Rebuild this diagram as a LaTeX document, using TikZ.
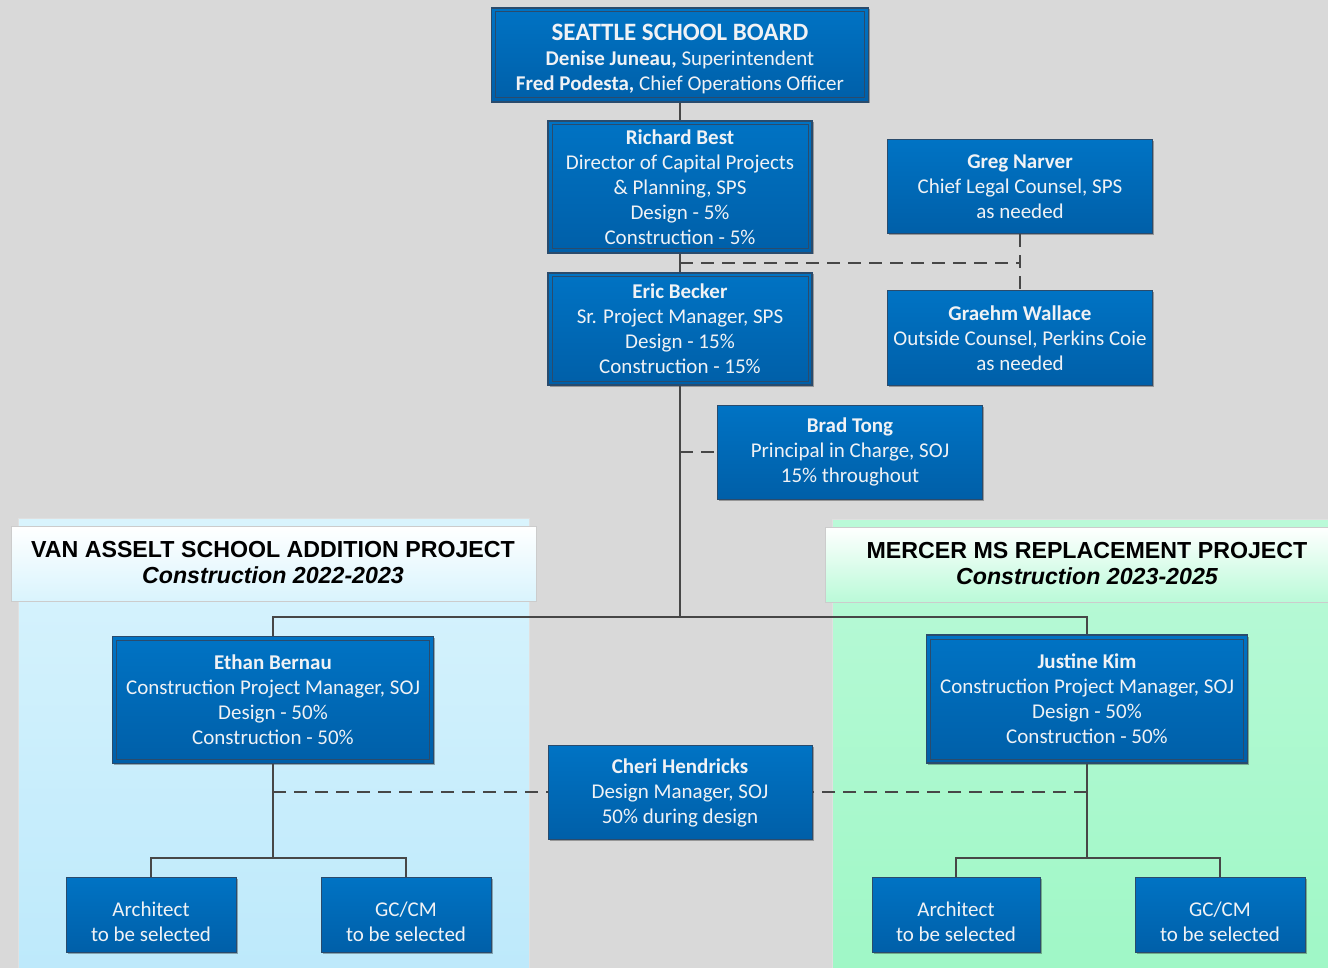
\documentclass[tikz,border=0pt]{standalone}
\usepackage{fontspec}
\setmainfont{Carlito}
\newfontfamily\headfont{Liberation Sans}
\usetikzlibrary{shadows}

\definecolor{bggray}{HTML}{D9D9D9}
\definecolor{boxtop}{HTML}{0073C4}
\definecolor{boxbot}{HTML}{005FA8}
\definecolor{boxline}{HTML}{2A4B6C}
\definecolor{linkgray}{HTML}{474747}
\definecolor{boxtext}{HTML}{F0F2F5}
\definecolor{bluetop}{HTML}{D9F4FD}
\definecolor{bluebot}{HTML}{BDE9FB}
\definecolor{greentop}{HTML}{BAFAD8}
\definecolor{greenbot}{HTML}{9FF7C6}

\tikzstyle{person}=[rectangle, draw=boxline, line width=1pt, top color=boxtop, bottom color=boxbot,
  text=boxtext, align=center, inner sep=0pt, font=\fontsize{21}{25}\selectfont,
  drop shadow={shadow xshift=1.5pt, shadow yshift=-1.5pt, opacity=0.3, fill=black}]
\tikzstyle{lead}=[person, line width=1.6pt,
  path picture={\draw[boxline, line width=1pt] ([shift={(4pt,-4pt)}]path picture bounding box.north west)
    rectangle ([shift={(-4pt,4pt)}]path picture bounding box.south east);}]
\tikzstyle{link}=[draw=linkgray, line width=2pt]
\tikzstyle{dlink}=[link, dash pattern=on 13pt off 8pt]
\tikzstyle{header}=[draw=black!20, line width=1pt, top color=white]
\tikzstyle{headtext}=[align=center, font=\headfont\fontsize{23.2}{26}\selectfont\bfseries]

\newcommand{\nm}[1]{\textbf{#1}}
% pushes the first line of a node down
\newcommand{\lowr}[1]{\rule{0pt}{#1}}

\begin{document}
\begin{tikzpicture}[x=1pt,y=-1pt]
  \useasboundingbox (0,0) rectangle (1328,968);
  \fill[bggray] (0,0) rectangle (1328,968);

  % project panels
  \shade[top color=bluetop, bottom color=bluebot, draw=black!12] (18,518) rectangle (529,975);
  \shade[top color=greentop, bottom color=greenbot, draw=black!12] (832,519) rectangle (1340,975);
  \shade[header, bottom color=bluetop] (11,526) rectangle (536,601);
  \shade[header, bottom color=greentop] (825,527) rectangle (1340,602);
  \node[headtext] (vanasselt) at (273,563) {VAN ASSELT SCHOOL ADDITION PROJECT\\ \itshape Construction 2022-2023};
  \node[headtext] (mercer) at (1087,564) {MERCER MS REPLACEMENT PROJECT\\ \itshape Construction 2023-2025};

  % people
  \node[lead, minimum width=377pt, minimum height=94pt] (board) at (680,55)
    {\lowr{24pt}{\fontsize{25}{27}\selectfont\bfseries SEATTLE SCHOOL BOARD}\\ \nm{Denise Juneau,} Superintendent\\ \nm{Fred Podesta,} Chief Operations Officer};
  \node[lead, minimum width=264pt, minimum height=132pt] (best) at (680,187)
    {\nm{Richard Best}\\ Director of Capital Projects\\ \& Planning, SPS\\ Design - 5\%\\ Construction - 5\%};
  \node[person, minimum width=265pt, minimum height=94pt] (narver) at (1020,187)
    {\nm{Greg Narver}\\ Chief Legal Counsel, SPS\\ as needed};
  \node[lead, minimum width=264pt, minimum height=112pt] (becker) at (680,329)
    {\nm{Eric Becker}\\ Sr. Project Manager, SPS\\ Design - 15\%\\ Construction - 15\%};
  \node[person, minimum width=265pt, minimum height=94pt] (wallace) at (1020,338)
    {\nm{Graehm Wallace}\\ Outside Counsel, Perkins Coie\\ as needed};
  \node[person, minimum width=265pt, minimum height=94pt] (tong) at (850,452)
    {\nm{Brad Tong}\\ Principal in Charge, SOJ\\ 15\% throughout};
  \node[lead, minimum width=321pt, minimum height=127pt] (bernau) at (273,700)
    {\nm{Ethan Bernau}\\ Construction Project Manager, SOJ\\ Design - 50\%\\ Construction - 50\%};
  \node[lead, minimum width=321pt, minimum height=128pt] (kim) at (1087,699)
    {\nm{Justine Kim}\\ Construction Project Manager, SOJ\\ Design - 50\%\\ Construction - 50\%};
  \node[person, minimum width=264pt, minimum height=94pt] (hendricks) at (680,792)
    {\lowr{17pt}\nm{Cheri Hendricks}\\ Design Manager, SOJ\\ 50\% during design};
  \node[person, minimum width=170pt, minimum height=75pt] (archA) at (151,915) {\lowr{29pt}Architect\\ to be selected};
  \node[person, minimum width=170pt, minimum height=75pt] (gcA) at (406,915) {\lowr{29pt}GC/CM\\ to be selected};
  \node[person, minimum width=168pt, minimum height=75pt] (archB) at (956,915) {\lowr{29pt}Architect\\ to be selected};
  \node[person, minimum width=170pt, minimum height=75pt] (gcB) at (1220,915) {\lowr{29pt}GC/CM\\ to be selected};

  \coordinate (legal) at (1020,263);
  \coordinate (split) at (680,617);
  \coordinate (splitA) at (273,858);
  \coordinate (splitB) at (1087,858);

  % solid links
  \draw[link] (board.south) -- (best.north);
  \draw[link] (best.south) -- (becker.north);
  \draw[link] (becker.south) -- (split) (bernau.north) |- (split) -| (kim.north);
  \draw[link] (bernau.south) -- (splitA) (archA.north) |- (splitA) -| (gcA.north);
  \draw[link] (kim.south) -- (splitB) (archB.north) |- (splitB) -| (gcB.north);

  % dashed links
  \draw[dlink] (best.south |- legal) -- (legal);
  \draw[dlink] (narver.south) -- (wallace.north);
  \draw[dlink] (becker.south |- tong.west) -- (tong.west);
  \draw[dlink] (bernau.south |- hendricks.west) -- (hendricks.west);
  \draw[dlink] (kim.south |- hendricks.east) -- (hendricks.east);
\end{tikzpicture}
\end{document}
